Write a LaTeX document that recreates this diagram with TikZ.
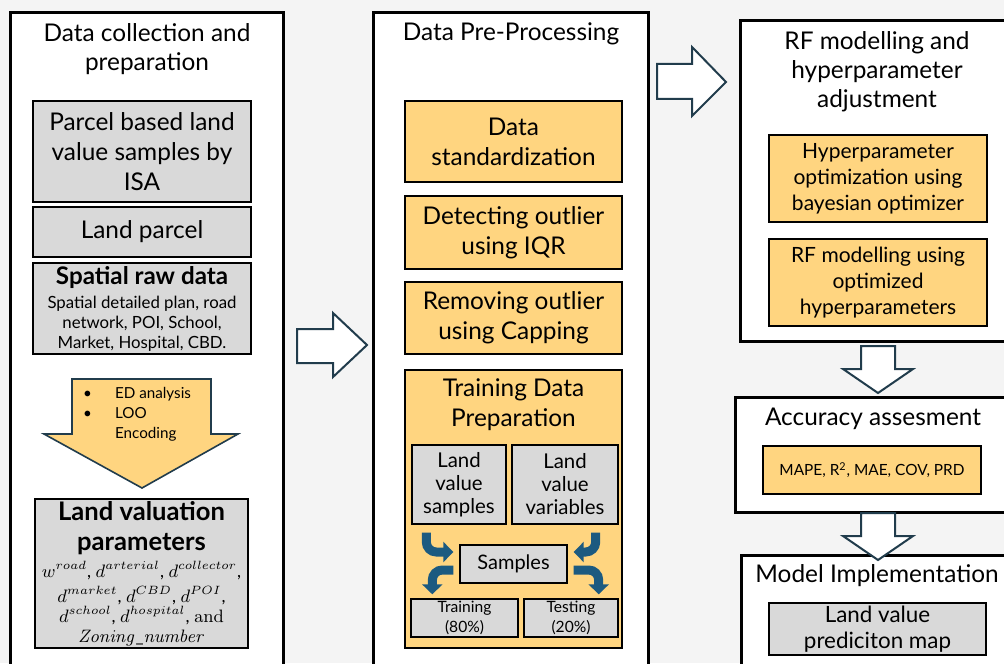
\documentclass[tikz,border=0pt]{standalone}
\usepackage[no-math]{fontspec}
\setmainfont{Lato}
\usetikzlibrary{arrows.meta}
\definecolor{bgc}{RGB}{244,244,244}
\definecolor{yel}{RGB}{255,213,128}
\definecolor{gry}{RGB}{217,217,217}
\definecolor{edge}{RGB}{33,60,76}
\definecolor{bent}{RGB}{28,90,128}
\begin{document}
\begin{tikzpicture}[x=0.5pt, y=-0.5pt,
  panel/.style={draw, line width=1.5pt, fill=white},
  gbox/.style={draw, line width=0.7pt, fill=gry, align=center, inner sep=1pt},
  ybox/.style={draw, line width=0.7pt, fill=yel, align=center, inner sep=1pt},
  fat/.style={draw=edge, line width=1pt, fill=white},
  bentarrow/.style={draw=bent, line width=4.5pt, rounded corners=5pt, -{Triangle[length=5pt, width=10pt]}},
  ttl/.style={align=center, font=\fontsize{12.2}{14.5}\selectfont},
  big/.style={font=\fontsize{12.2}{15}\selectfont}]

\fill[bgc] (0,0) rectangle (1004,663);
\useasboundingbox (0,0) rectangle (1004,663);
\clip (0,0) rectangle (1004,663);

\node[panel, minimum width=136.5pt, minimum height=332pt] (p1) at (146.5,345) {};
\node[ttl] (t1) at (147,49.5) {Data collection and\\preparation};
\node[gbox, big, minimum width=109pt, minimum height=50.5pt] (isa) at (142,151.5) {Parcel based land\\value samples by\\ISA};
\node[gbox, big, minimum width=109pt, minimum height=25pt] (parcel) at (142,232) {Land parcel};
\node[gbox, minimum width=109pt, minimum height=45.5pt, font=\fontsize{8.4}{10}\selectfont] (raw) at (142,308.5) {{\fontsize{12.1}{13}\selectfont\bfseries Spatial raw data}\\[2pt]Spatial detailed plan, road\\network, POI, School,\\Market, Hospital, CBD.};
\draw[fill=yel, draw=edge, line width=0.8pt] (72,379) -- (211,379) -- (211,434) -- (238,434) -- (142,488) -- (44,434) -- (72,434) -- cycle;
\node[anchor=west, align=left, font=\fontsize{7.6}{10}\selectfont] (eda) at (76,414) {\makebox[16pt][l]{\textbullet}ED analysis\\\makebox[16pt][l]{\textbullet}LOO\\\makebox[16pt][l]{}Encoding};
\node[gbox, minimum width=106.5pt, minimum height=74.5pt, font=\fontsize{8.8}{10}\selectfont] (lvp) at (141.5,573.5) {{\fontsize{12.8}{13}\selectfont\bfseries Land valuation}\\[5pt]{\fontsize{12.8}{13}\selectfont\bfseries parameters}\\[2.5pt]$w^{road}$, $d^{arterial}$, $d^{collector}$,\\[2.5pt]$d^{market}$, $d^{CBD}$, $d^{POI}$,\\$d^{school}$, $d^{hospital}$, $\mathrm{and}$\\$\mathit{Zoning\_number}$};

\node[panel, minimum width=137.5pt, minimum height=332pt] (p2) at (510.5,345) {};
\node[ttl] (t2) at (511,34) {Data Pre-Processing};
\node[ybox, big, minimum width=108.5pt, minimum height=40.5pt] (std) at (513.5,141.5) {Data\\standardization};
\node[ybox, big, minimum width=108.5pt, minimum height=36.5pt] (iqr) at (513.5,232.5) {Detecting outlier\\using IQR};
\node[ybox, big, minimum width=108.5pt, minimum height=36pt] (capping) at (513.5,318) {Removing outlier\\using Capping};
\node[ybox, minimum width=108.5pt, minimum height=139pt] (tdp) at (513.5,509) {};
\node[big, align=center] (tdpt) at (513.5,404.5) {Training Data\\Preparation};
\node[gbox, minimum width=47pt, minimum height=39.5pt, font=\fontsize{10.2}{11.5}\selectfont] (lvs) at (459,484.5) {Land\\value\\samples};
\node[gbox, minimum width=53pt, minimum height=39.5pt, font=\fontsize{10.2}{11.5}\selectfont] (lvv) at (565,484.5) {Land\\value\\variables};
\node[gbox, minimum width=53.5pt, minimum height=19pt, font=\fontsize{10}{11.5}\selectfont] (smp) at (513.5,564) {Samples};
\node[gbox, minimum width=53.5pt, minimum height=19pt, font=\fontsize{7.8}{10}\selectfont] (trn) at (464.5,618) {Training\\(80\%)};
\node[gbox, minimum width=47pt, minimum height=19pt, font=\fontsize{7.8}{10}\selectfont] (tst) at (571,618) {Testing\\(20\%)};

\draw[bentarrow] ([xshift=7.5pt,yshift=-4pt]lvs.south west) |- ([xshift=-3pt,yshift=6pt]smp.west);
\draw[bentarrow] ([xshift=-11.5pt,yshift=-4pt]lvv.south east) |- ([xshift=3pt,yshift=6pt]smp.east);
\draw[bentarrow] ([xshift=-3pt,yshift=-3pt]smp.west) -| ([xshift=11pt,yshift=2pt]trn.north west);
\draw[bentarrow] ([xshift=3pt,yshift=-3pt]smp.east) -| ([xshift=-10pt,yshift=2pt]tst.north east);

\node[panel, minimum width=135pt, minimum height=160pt] (p3) at (875,181) {};
\node[ttl] (t3) at (877,72) {RF modelling and\\hyperparameter\\adjustment};
\node[ybox, minimum width=109pt, minimum height=43.5pt, font=\fontsize{10.5}{13}\selectfont] (hpo) at (878,178.5) {Hyperparameter\\optimization using\\bayesian optimizer};
\node[ybox, minimum width=109pt, minimum height=43.5pt, font=\fontsize{10.5}{13}\selectfont] (rfm) at (878,282.5) {RF modelling using\\optimized\\hyperparameters};

\node[panel, minimum width=137.5pt, minimum height=57.5pt] (p4) at (872.5,454.5) {};
\node[ttl] (t4) at (873,419) {Accuracy assesment};
\node[ybox, minimum width=109pt, minimum height=24pt, font=\fontsize{7.7}{9}\selectfont] (acc) at (872,470) {MAPE, R\textsuperscript{2}, MAE, COV, PRD};

\node[panel, minimum width=134.5pt, minimum height=61pt] (p5) at (875.5,616) {};
\node[ttl] (t5) at (877,576) {Model Implementation};
\node[gbox, minimum width=108.5pt, minimum height=26pt, font=\fontsize{11.2}{13}\selectfont] (map) at (877.5,629) {Land value\\prediciton map};

\draw[fat] (297,329) -- (333,329) -- (333,313) -- (367,345) -- (333,377) -- (333,363) -- (297,363) -- cycle;
\draw[fat] (657,64) -- (692,64) -- (692,47) -- (726,82) -- (692,116) -- (692,99) -- (657,99) -- cycle;
\draw[fat] (861,346) -- (895,346) -- (895,369) -- (913,369) -- (878,393) -- (843,369) -- (861,369) -- cycle;
\draw[fat] (861,513) -- (895,513) -- (895,536) -- (913,536) -- (878,560) -- (843,536) -- (861,536) -- cycle;

\end{tikzpicture}
\end{document}
